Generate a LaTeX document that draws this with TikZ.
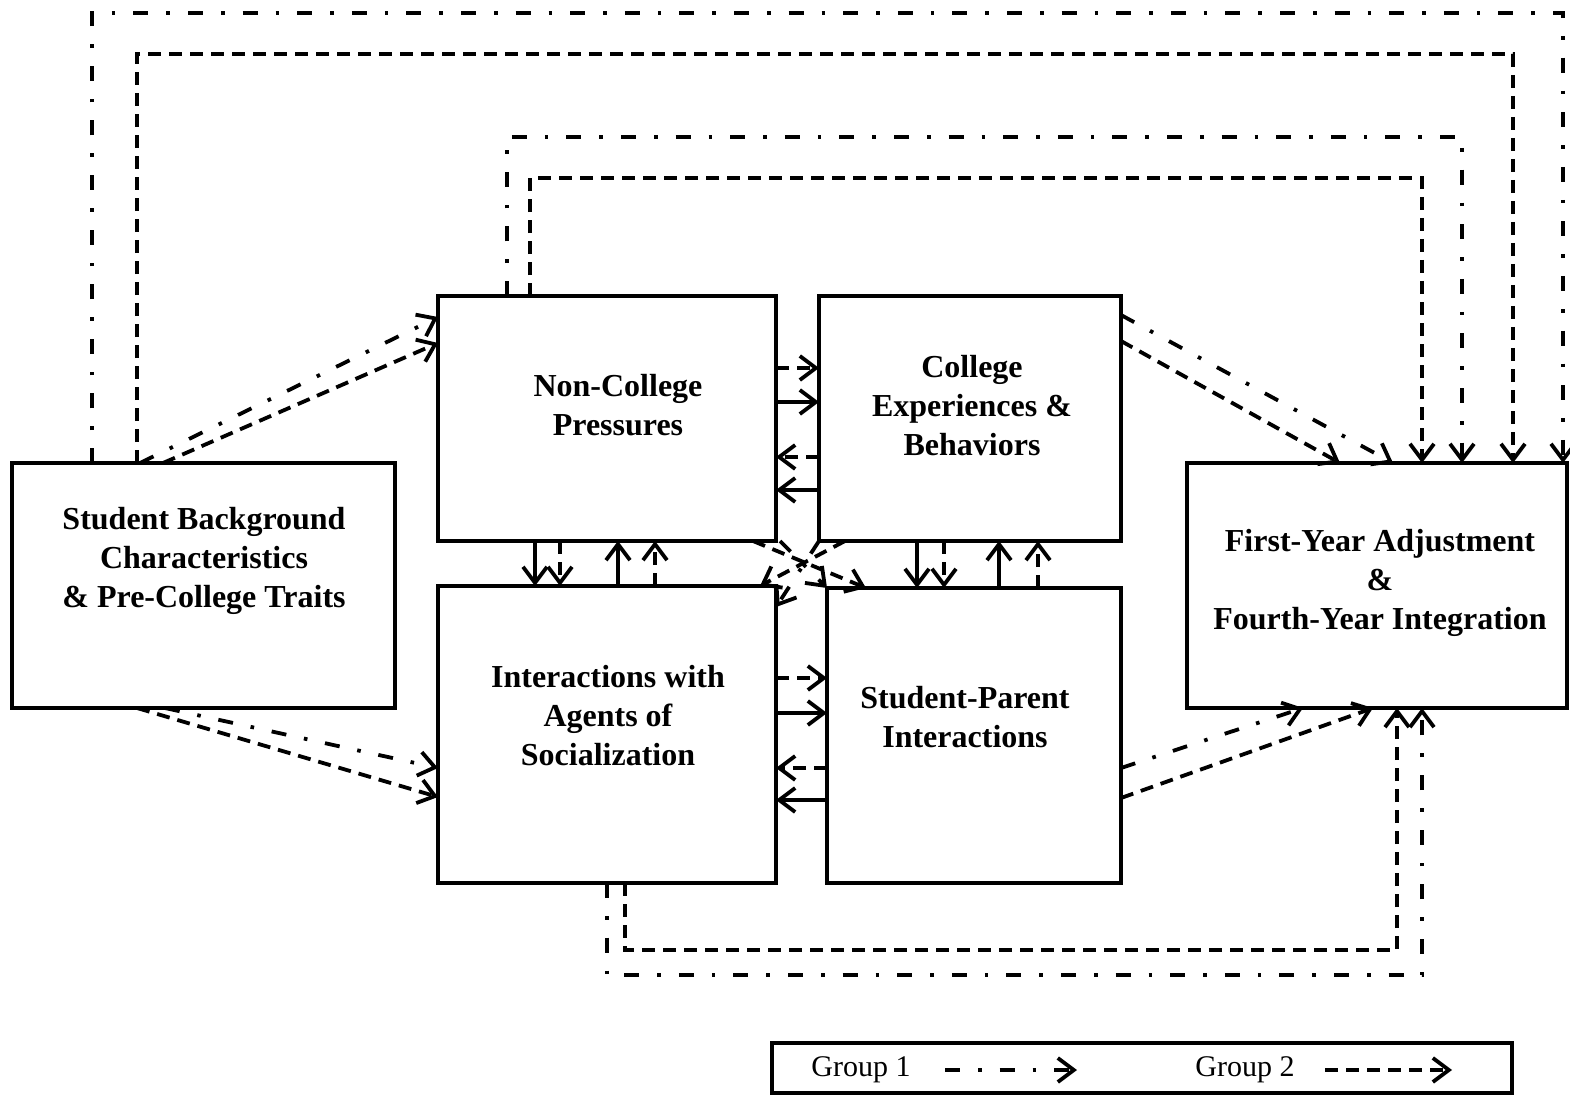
\documentclass[tikz,border=0pt]{standalone}
\usepackage{fontspec}
\setmainfont{Liberation Serif}
\usetikzlibrary{arrows.meta,calc}
\begin{document}
\begin{tikzpicture}[x=0.5pt,y=-0.5pt,
  box/.style={draw, line width=1.9pt, inner sep=0pt, outer sep=0pt},
  lbl/.style={font=\bfseries\fontsize{16}{19.5}\selectfont, align=center, inner sep=0pt},
  link/.style={line width=1.9pt, -{Straight Barb[length=8pt,width=12pt]}},
  g1/.style={link, dash pattern=on 7.5pt off 9pt on 1.8pt off 9pt},
  g2/.style={link, dash pattern=on 6.5pt off 4pt},
  g1s/.style={link},
]
\useasboundingbox (0,0) rectangle (1570,1097);

% boxes
\node[box, minimum width=191.5pt, minimum height=122.5pt] (sb)  at (203.5,585.5) {};
\node[box, minimum width=169pt,   minimum height=122.5pt] (ncp) at (607,418.5) {};
\node[box, minimum width=151pt,   minimum height=122.5pt] (ce)  at (970,418.5) {};
\node[box, minimum width=169pt,   minimum height=148.5pt] (ia)  at (607,734.5) {};
\node[box, minimum width=147pt,   minimum height=147.5pt] (sp)  at (974,735.5) {};
\node[box, minimum width=190pt,   minimum height=122.5pt] (fy)  at (1377,585.5) {};

% box texts
\node[lbl] (sbt)  at (204,561) {Student Background\\Characteristics\\\& Pre-College Traits};
\node[lbl] (ncpt) at (618,405) {Non-College\\Pressures};
\node[lbl] (cet)  at (972,406) {College\\Experiences \&\\Behaviors};
\node[lbl] (iat)  at (608,716) {Interactions with\\Agents of\\Socialization};
\node[lbl] (spt)  at (965,717) {Student-Parent\\Interactions};
\node[lbl] (fyt)  at (1380,583) {First-Year Adjustment\\\&\\Fourth-Year Integration};

% long paths over the top
\draw[g1] (92,0 |- sb.north)   -- (92,13)   -| (1563,0 |- fy.north);
\draw[g2] (137,0 |- sb.north)  -- (137,54)  -| (1513,0 |- fy.north);
\draw[g1] (507,0 |- ncp.north) -- (507,137) -| (1462,0 |- fy.north);
\draw[g2] (530,0 |- ncp.north) -- (530,178) -| (1422,0 |- fy.north);

% background to middle boxes
\draw[g1] (140,0 |- sb.north) -- (ncp.west |- 0,317);
\draw[g2] (163,0 |- sb.north) -- (ncp.west |- 0,343);
\draw[g1] (165,0 |- sb.south) -- (ia.west |- 0,768);
\draw[g2] (137,0 |- sb.south) -- (ia.west |- 0,797);

% middle boxes to outcome
\draw[g1] (ce.east |- 0,315) -- (1393,0 |- fy.north);
\draw[g2] (ce.east |- 0,341) -- (1340,0 |- fy.north);
\draw[g1] (sp.east |- 0,768) -- (1303,0 |- fy.south);
\draw[g2] (sp.east |- 0,798) -- (1373,0 |- fy.south);

% long paths underneath
\draw[g1] (607,0 |- ia.south) -- (607,975) -| (1422,0 |- fy.south);
\draw[g2] (625,0 |- ia.south) -- (625,950) -| (1397,0 |- fy.south);

% between non-college pressures and college experiences
\draw[g2]  (ncp.east |- 0,368) -- (ce.west |- 0,368);
\draw[g1s] (ncp.east |- 0,402) -- (ce.west |- 0,402);
\draw[g2]  (ce.west |- 0,457) -- (ncp.east |- 0,457);
\draw[g1s] (ce.west |- 0,490) -- (ncp.east |- 0,490);

% between interactions and student-parent
\draw[g2]  (ia.east |- 0,678) -- (sp.west |- 0,678);
\draw[g1s] (ia.east |- 0,713) -- (sp.west |- 0,713);
\draw[g2]  (sp.west |- 0,768) -- (ia.east |- 0,768);
\draw[g1s] (sp.west |- 0,800) -- (ia.east |- 0,800);

% vertical links, left column
\draw[g1s] (535,0 |- ncp.south) -- (535,0 |- ia.north);
\draw[g2]  (560,0 |- ncp.south) -- (560,0 |- ia.north);
\draw[g1s] (618,0 |- ia.north) -- (618,0 |- ncp.south);
\draw[g2]  (655,0 |- ia.north) -- (655,0 |- ncp.south);

% vertical links, right column
\draw[g1s] (917,0 |- ce.south) -- (917,0 |- sp.north);
\draw[g2]  (944,0 |- ce.south) -- (944,0 |- sp.north);
\draw[g1s] (999,0 |- sp.north) -- (999,0 |- ce.south);
\draw[g2]  (1038,0 |- sp.north) -- (1038,0 |- ce.south);

% crossing links
\draw[g2] (753,0 |- ncp.south) -- (866,0 |- sp.north);
\draw[g1] (780,0 |- ncp.south) -- (sp.north west);
\draw[g2] (845,0 |- ce.south) -- (760,0 |- ia.north);
\draw[g1] (ce.south west) -- (ia.east |- 0,607);

% legend
\node[box, line width=1.6pt, minimum width=370pt, minimum height=25pt] (leg) at (1142,1068) {};
\node[font=\fontsize{15}{18}\selectfont, inner sep=0pt] (leg1) at (861,1070) {Group 1};
\node[font=\fontsize{15}{18}\selectfont, inner sep=0pt] (leg2) at (1245,1070) {Group 2};
\coordinate (l1a) at (945,1070);
\coordinate (l1b) at (1077,1070);
\coordinate (l2a) at (1325,1070);
\coordinate (l2b) at (1452,1070);
\draw[g1] (l1a) -- (l1b);
\draw[g2] (l2a) -- (l2b);
\end{tikzpicture}
\end{document}
